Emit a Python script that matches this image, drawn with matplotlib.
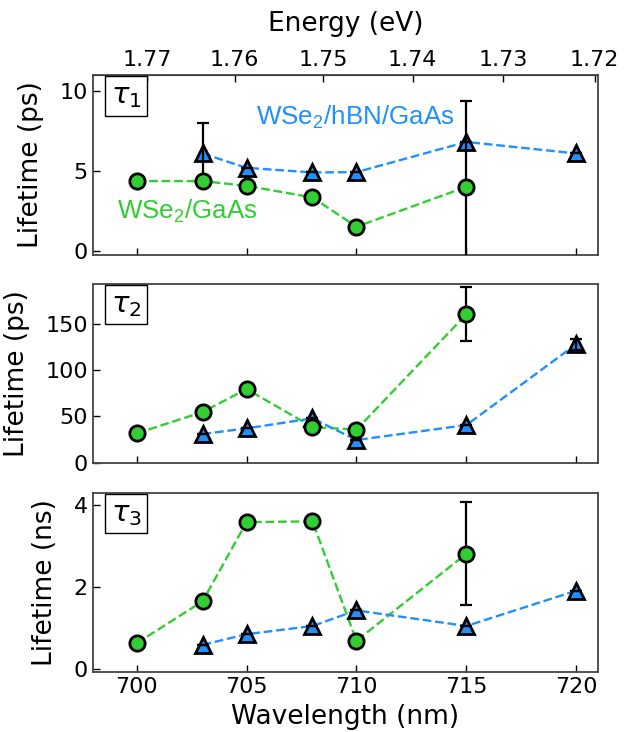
import matplotlib
matplotlib.use("Agg")
import matplotlib.pyplot as plt
import numpy as np

# wavelengths (nm)
wl_gaas = [700, 703, 705, 708, 710, 715]
wl_hbn = [703, 705, 708, 710, 715, 720]

# tau1 (ps)
tau1_gaas = [4.36, 4.36, 4.06, 3.34, 1.5, 4.0]
tau1_hbn = [6.09, 5.19, 4.9, 4.92, 6.81, 6.09]
tau1_gaas_err = [0, 0, 0, 0, 0, 5.38]
tau1_hbn_err = [1.9, 0, 0, 0, 0, 0]

# tau2 (ps)
tau2_gaas = [31.6, 54.7, 79.6, 38.5, 35.6, 160.8]
tau2_hbn = [30.9, 37.0, 47.9, 24.4, 40.6, 128.3]
tau2_gaas_err = [0, 0, 0, 0, 0, 29]
tau2_hbn_err = [0, 0, 0, 0, 0, 6]

# tau3 (ns)
tau3_gaas = [0.63, 1.65, 3.58, 3.60, 0.69, 2.81]
tau3_hbn = [0.59, 0.85, 1.05, 1.43, 1.05, 1.91]
tau3_gaas_err = [0, 0, 0, 0, 0, 1.26]
tau3_hbn_err = [0, 0, 0, 0, 0, 0]

energy_ticks = [1.77, 1.76, 1.75, 1.74, 1.73, 1.72]
HC = 1239.84

green = "#32CD32"
blue = "#1E90FF"

panels = [
    (tau1_gaas, tau1_gaas_err, tau1_hbn, tau1_hbn_err, r"$\tau_1$", "Lifetime (ps)", (-0.27, 11), [0, 5, 10]),
    (tau2_gaas, tau2_gaas_err, tau2_hbn, tau2_hbn_err, r"$\tau_2$", "Lifetime (ps)", (-0.5, 193.5), [0, 50, 100, 150]),
    (tau3_gaas, tau3_gaas_err, tau3_hbn, tau3_hbn_err, r"$\tau_3$", "Lifetime (ns)", (-0.07, 4.29), [0, 2, 4]),
]

fig = plt.figure(figsize=(6.26, 7.32), dpi=100)
rects = [
    [0.148, 0.6516, 0.8077, 0.2459],
    [0.148, 0.3675, 0.8077, 0.2445],
    [0.148, 0.0820, 0.8077, 0.2445],
]

axes = []
for i, (g, gerr, b, berr, tag, ylab, ylim, yt) in enumerate(panels):
    ax = fig.add_axes(rects[i])
    axes.append(ax)

    ax.plot(wl_hbn, b, ls="--", color=blue, lw=1.7, marker="^", ms=12,
            mfc=blue, mec="black", mew=2, zorder=3)
    ax.plot(wl_gaas, g, ls="--", color=green, lw=1.7, zorder=2)
    ax.errorbar(wl_hbn, b, yerr=berr, fmt="none", ecolor="black",
                elinewidth=1.6, capsize=4.5, capthick=1.6, zorder=4)
    ax.errorbar(wl_gaas, g, yerr=gerr, fmt="none", ecolor="black",
                elinewidth=1.6, capsize=4.5, capthick=1.6, zorder=4)
    ax.plot(wl_gaas, g, ls="none", marker="o", ms=11, mfc=green,
            mec="black", mew=2, zorder=5)

    ax.set_xlim(698, 721)
    ax.set_ylim(*ylim)
    ax.set_yticks(yt)
    ax.set_xticks([700, 705, 710, 715, 720])
    ax.set_ylabel(ylab, fontsize=19, labelpad=11)
    ax.tick_params(direction="in", length=5, width=1, labelsize=16,
                   top=False, right=False)
    for s in ax.spines.values():
        s.set_color("#444444")
        s.set_linewidth(1.3)
    if i < 2:
        ax.tick_params(labelbottom=False)

    ax.text(0.066, 0.885, tag, transform=ax.transAxes, fontsize=21,
            ha="center", va="center",
            bbox=dict(boxstyle="square,pad=0.2", fc="white", ec="black", lw=1))

axes[2].set_xlabel("Wavelength (nm)", fontsize=19, labelpad=5)

# top energy axis
top = axes[0].secondary_xaxis("top", functions=(lambda x: HC / np.asarray(x, float),
                                                 lambda e: HC / np.asarray(e, float)))
top.set_xticks(energy_ticks)
top.set_xticklabels([f"{e:.2f}" for e in energy_ticks])
top.tick_params(direction="in", length=5, width=1, labelsize=16)
top.set_xlabel("Energy (eV)", fontsize=19, labelpad=14)

axes[0].text(705.44, 8.36, r"WSe$_\mathregular{2}$/hBN/GaAs", color=blue,
             fontsize=18.7, family="Liberation Sans", ha="left", va="center")
axes[0].text(699.1, 2.48, r"WSe$_\mathregular{2}$/GaAs", color=green,
             fontsize=18.7, family="Liberation Sans", ha="left", va="center")

fig.savefig("out.png", dpi=100)
